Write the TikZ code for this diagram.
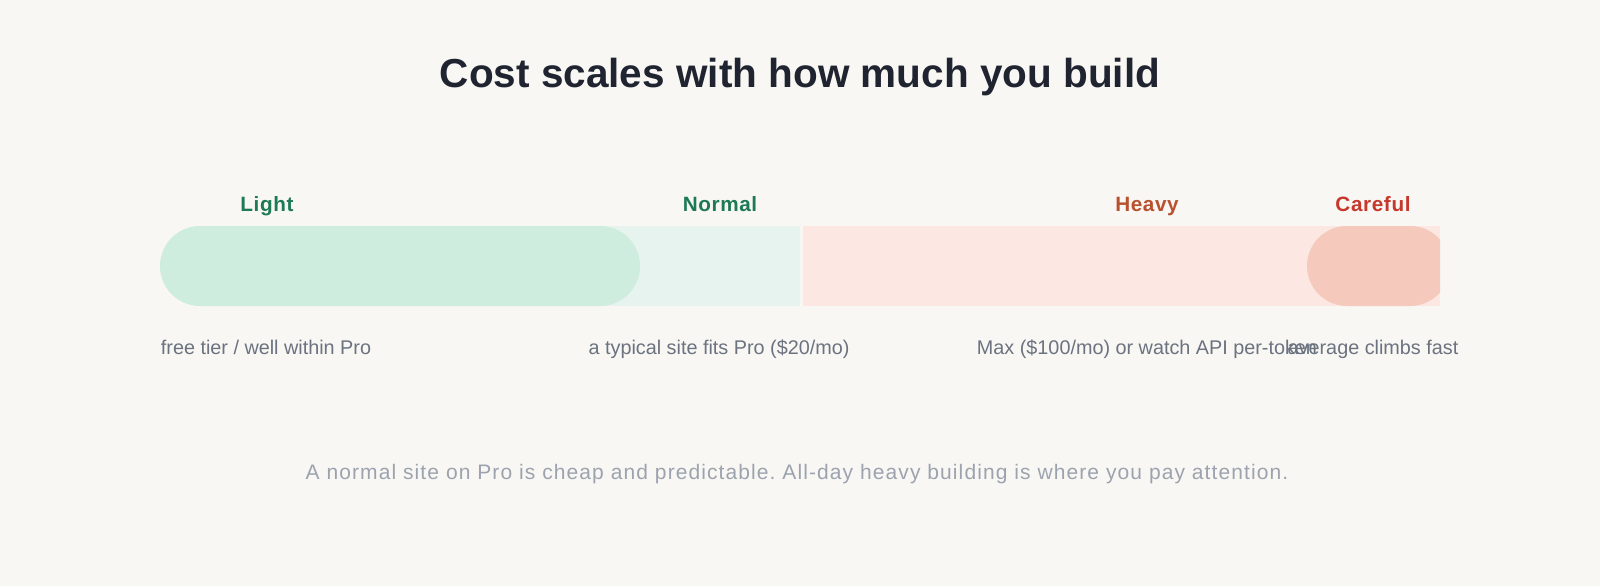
\documentclass[tikz,border=0pt]{standalone}
\usepackage{fontspec}
\setmainfont{Liberation Sans}
\newfontfamily\footfont[LetterSpace=5.2]{Liberation Sans}
\newfontfamily\labfont[LetterSpace=3]{Liberation Sans}
\definecolor{bg}{HTML}{F8F7F3}
\definecolor{titlec}{HTML}{1F2430}
\definecolor{lightpill}{HTML}{CEEDDE}
\definecolor{normalbg}{HTML}{E6F3EE}
\definecolor{heavybg}{HTML}{FCE7E2}
\definecolor{carepill}{HTML}{F5CABD}
\definecolor{greenlab}{HTML}{1E7A55}
\definecolor{heavylab}{HTML}{B9502E}
\definecolor{carelab}{HTML}{C6372C}
\definecolor{subc}{HTML}{6B7280}
\definecolor{footc}{HTML}{9CA3AF}
\tikzset{
  lab/.style={anchor=base, inner sep=0pt, font=\labfont\fontsize{20.7}{24}\selectfont\bfseries},
  sub/.style={anchor=base, inner sep=0pt, text=subc, font=\fontsize{19.8}{24}\selectfont},
}
\begin{document}
\frenchspacing
\begin{tikzpicture}[x=1pt,y=-1pt]
\fill[bg] (0,0) rectangle (1600,586);
\useasboundingbox (0,0) rectangle (1600,586);
\node[anchor=base, inner sep=0pt, text=titlec, font=\fontsize{40.5}{48}\selectfont\bfseries] (title) at (800,87) {Cost scales with how much you build};
% bar
\fill[normalbg] (400,226) rectangle (800,306);
\fill[lightpill, rounded corners=40pt] (160,226) rectangle (640,306);
\fill[heavybg] (803,226) rectangle (1440,306);
\begin{scope}
\clip (803,226) rectangle (1440,306);
\fill[carepill, rounded corners=40pt] (1307,226) rectangle (1450,306);
\end{scope}
\coordinate (barL) at (160,266);
\coordinate (barR) at (1440,266);
% labels
\node[lab, text=greenlab] (light) at (267,211) {Light};
\node[lab, text=greenlab] (normal) at (720,211) {Normal};
\node[lab, text=heavylab] (heavy) at (1147,211) {Heavy};
\node[lab, text=carelab] (careful) at (1373,211) {Careful};
% sublabels
\node[sub] (s1) at (266,354) {free tier / well within Pro};
\node[sub] (s2) at (719,354) {a typical site fits Pro (\$20/mo)};
\node[sub] (s3) at (1147,354) {Max (\$100/mo) or watch API per-token};
\node[sub] (s4) at (1373,354) {average climbs fast};
% footnote
\node[anchor=base, inner sep=0pt, text=footc, font=\footfont\fontsize{21}{24}\selectfont] (foot) at (797,479) {A normal site on Pro is cheap and predictable. All-day heavy building is where you pay attention.};
\end{tikzpicture}
\end{document}
